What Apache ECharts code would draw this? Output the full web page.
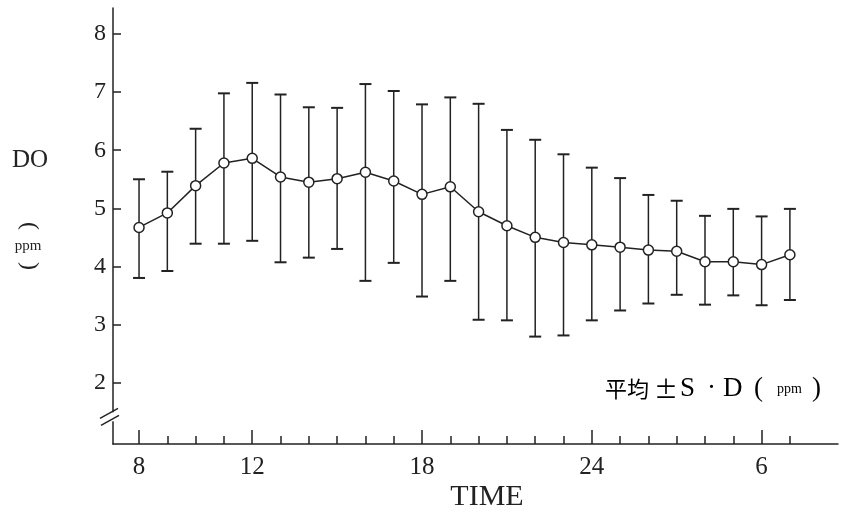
<!DOCTYPE html>
<html><head><meta charset="utf-8">
<script src="https://cdn.jsdelivr.net/npm/echarts@6/dist/echarts.min.js"></script>
<style>html,body{margin:0;padding:0;background:#fff}#c{width:841px;height:514px}</style>
</head><body><div id="c"></div>
<script>
const hours = ['8','9','10','11','12','13','14','15','16','17','18','19','20','21','22','23','24','1','2','3','4','5','6','7'];
const meanDO  = [4.67,4.92,5.39,5.78,5.86,5.54,5.45,5.51,5.62,5.47,5.24,5.37,4.94,4.70,4.50,4.41,4.37,4.33,4.28,4.26,4.08,4.08,4.03,4.20];
const upperDO = [5.50,5.63,6.37,6.98,7.16,6.96,6.74,6.73,7.14,7.02,6.79,6.91,6.80,6.35,6.18,5.93,5.70,5.52,5.23,5.13,4.87,4.99,4.86,4.99];
const lowerDO = [3.80,3.92,4.39,4.39,4.44,4.07,4.15,4.30,3.75,4.06,3.48,3.75,3.08,3.07,2.79,2.81,3.07,3.24,3.36,3.51,3.34,3.50,3.33,3.42];
const xTickLabels = ['8','12','18','24','6'];
const yTickLabels = [2,3,4,5,6,7,8];
const yAxisName = 'DO';
const yAxisUnit = 'ppm';
const xAxisName = 'TIME';

const INK = '#222';
const SERIF = "'Liberation Serif','DejaVu Serif',serif";
const GRID_LEFT = 113;

const chart = echarts.init(document.getElementById('c'), null, {renderer:'canvas'});
const idx = hours.map((h,i)=>i);
const majorIdx = xTickLabels.map(l=>hours.indexOf(l));

const xBase = {
  type:'value', min:-0.92, max:24.7, position:'bottom',
  splitLine:{show:false}
};

chart.setOption({
  animation:false,
  backgroundColor:'#fff',
  grid:{left:GRID_LEFT, right:3, top:8, bottom:70, containLabel:false},
  xAxis:[
    Object.assign({}, xBase, {
      axisLine:{show:true, onZero:false, lineStyle:{color:INK, width:1.5}},
      axisTick:{show:true, inside:true, length:8, customValues:idx, lineStyle:{color:INK, width:1.5}},
      axisLabel:{show:false}
    }),
    Object.assign({}, xBase, {
      axisLine:{show:false, onZero:false},
      axisTick:{show:true, inside:true, length:14, customValues:majorIdx, lineStyle:{color:INK, width:1.5}},
      axisLabel:{show:true, customValues:majorIdx, formatter:v=>hours[Math.round(v)],
        fontFamily:SERIF, fontSize:25, color:INK, margin:11}
    })
  ],
  yAxis:{
    type:'value', min:0.94, max:8.45,
    splitLine:{show:false},
    axisLine:{show:true, onZero:false, lineStyle:{color:INK, width:1.5}},
    axisTick:{show:true, inside:true, length:8, customValues:yTickLabels, lineStyle:{color:INK, width:1.5}},
    axisLabel:{show:true, customValues:yTickLabels, fontFamily:SERIF, fontSize:24, color:INK, margin:7}
  },
  series:[
    {
      type:'custom', xAxisIndex:0, yAxisIndex:0,
      data: idx.map(i=>[i, lowerDO[i], upperDO[i]]),
      encode:{x:0, y:[1,2]},
      z:2,
      renderItem:function(params, api){
        const x = api.value(0);
        const lo = api.coord([x, api.value(1)]);
        const hi = api.coord([x, api.value(2)]);
        const w = 6;
        const st = {stroke:INK, lineWidth:1.5};
        return {type:'group', children:[
          {type:'line', shape:{x1:lo[0], y1:lo[1], x2:hi[0], y2:hi[1]}, style:st},
          {type:'line', shape:{x1:hi[0]-w, y1:hi[1], x2:hi[0]+w, y2:hi[1]}, style:{stroke:INK, lineWidth:2}},
          {type:'line', shape:{x1:lo[0]-w, y1:lo[1], x2:lo[0]+w, y2:lo[1]}, style:{stroke:INK, lineWidth:2}}
        ]};
      }
    },
    {
      type:'line', xAxisIndex:0, yAxisIndex:0, z:3,
      data: idx.map(i=>[i, meanDO[i]]),
      symbol:'circle', symbolSize:10, showSymbol:true,
      lineStyle:{color:INK, width:1.5},
      itemStyle:{color:'#fff', borderColor:INK, borderWidth:1.5}
    }
  ]
});

// axis break marks + texts
const yb = chart.convertToPixel({yAxisIndex:0}, 1.4);
const ax = GRID_LEFT;
chart.setOption({
  graphic:[
    {type:'rect', shape:{x:ax-3, y:yb-5, width:6, height:9}, style:{fill:'#fff'}, z:10},
    {type:'line', shape:{x1:ax-13, y1:yb+1, x2:ax+5, y2:yb-9}, style:{stroke:INK, lineWidth:1.5}, z:11},
    {type:'line', shape:{x1:ax-12, y1:yb+8, x2:ax+6, y2:yb-2}, style:{stroke:INK, lineWidth:1.5}, z:11},
    {type:'text', x:30, y:160, style:{text:yAxisName, font:"25px "+SERIF, fill:INK, align:'center', verticalAlign:'middle'}},
    {type:'text', x:28, y:246, style:{text:yAxisUnit, font:"15px "+SERIF, fill:INK, align:'center', verticalAlign:'middle'}},
    {type:'text', x:487, y:497, style:{text:xAxisName, font:"30px "+SERIF, fill:INK, align:'center', verticalAlign:'middle'}},
    {type:'text', x:605, y:389, style:{
      text:'{c|平均}{pm|±}{s|S}{d|·}{s2|D}{b|(}{p|ppm}{b2|)}', verticalAlign:'middle',
      rich:{
        c:{fontFamily:"'Noto Sans CJK JP'", fontSize:22, color:INK, width:49},
        pm:{fontFamily:"'Noto Sans CJK JP'", fontSize:24, color:INK, width:26},
        s:{fontFamily:SERIF, fontSize:27, color:INK, width:27},
        d:{fontFamily:SERIF, fontSize:27, color:INK, width:16},
        s2:{fontFamily:SERIF, fontSize:27, color:INK, width:31},
        b:{fontFamily:SERIF, fontSize:27, color:INK, width:23},
        p:{fontFamily:SERIF, fontSize:14, color:INK, width:35},
        b2:{fontFamily:SERIF, fontSize:27, color:INK, width:10}
      }
    }}
  ]
});

// vertical-writing parentheses around the unit (rotated glyphs)
const zr = chart.getZr();
[['(', 226], [')', 266]].forEach(function(p){
  zr.add(new echarts.graphic.Text({
    x:29, y:p[1], rotation:-Math.PI/2,
    style:{text:p[0], font:"24px "+SERIF, fill:INK, align:'center', verticalAlign:'middle'},
    z:100
  }));
});
</script></body></html>
